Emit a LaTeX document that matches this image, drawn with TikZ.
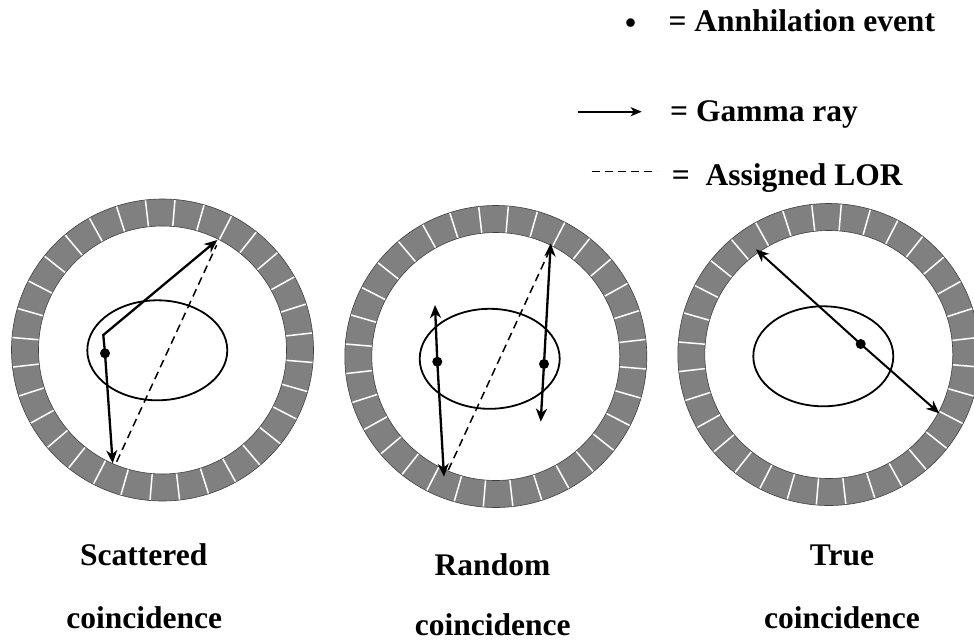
\documentclass[tikz,border=0pt]{standalone}
\usepackage{fontspec}
\setmainfont{Liberation Serif}
\usetikzlibrary{arrows.meta,calc,shapes.geometric}
\definecolor{ringgray}{HTML}{808080}
\begin{document}
\begin{tikzpicture}[x=1pt,y=-1pt,
  sepline/.style={white, line width=1.5pt},
  ringedge/.style={draw=black!75, line width=0.6pt},
  phantom/.style={draw=black, line width=1.8pt, ellipse, inner sep=0pt, minimum width=140pt, minimum height=100pt},
  ray/.style={black, line width=2.3pt, line join=miter, -{Stealth[length=13pt,width=11pt,inset=4pt]}},
  lor/.style={black, line width=1.5pt, dash pattern=on 8pt off 5pt},
  evt/.style={circle, fill=black, inner sep=0pt, minimum size=10pt},
  lbl/.style={font=\fontsize{31.5}{36}\selectfont\bfseries, inner sep=0pt, anchor=base},
]
\useasboundingbox (0,0) rectangle (974,641);

% detector rings
\coordinate (c1) at (162.5,350);
\coordinate (c2) at (495.8,356.5);
\coordinate (c3) at (828.8,354.5);
\foreach \rr in {c1,c2,c3}{
  \fill[ringgray, even odd rule] (\rr) circle[radius=151pt] (\rr) circle[radius=124pt];
  \foreach \k in {0,...,31}
    \draw[sepline] ($(\rr)+(6.5+11.25*\k:124pt)$) -- ($(\rr)+(6.5+11.25*\k:151pt)$);
  \draw[ringedge] (\rr) circle[radius=151pt];
  \draw[ringedge] (\rr) circle[radius=124pt];
}

% phantoms
\node[phantom] (e1) at (157.3,350.3) {};
\node[phantom] (e2) at (489.7,358.8) {};
\node[phantom] (e3) at (823.3,356.3) {};

% scattered coincidence
\node[evt] (d1) at (105,353.3) {};
\coordinate (k1) at (103.3,335);
\coordinate (t1) at (217.3,240);
\coordinate (b1) at (112.7,463.3);
\coordinate (l1a) at (116.7,461.7);
\coordinate (l1b) at (216.7,245);
\draw[lor] (l1a) -- (l1b);
\draw[ray] (d1.center) -- (k1) -- (t1);
\draw[ray] (d1.center) -- (b1);

% random coincidence
\node[evt] (d2a) at (437.3,361.7) {};
\node[evt] (d2b) at (544,364) {};
\coordinate (t2a) at (435,305);
\coordinate (b2a) at (444,476.7);
\coordinate (t2b) at (550.7,243.3);
\coordinate (b2b) at (540.7,421.7);
\coordinate (l2a) at (448.3,470);
\coordinate (l2b) at (548.3,253.3);
\draw[lor] (l2a) -- (l2b);
\draw[ray] (d2a.center) -- (t2a);
\draw[ray] (d2a.center) -- (b2a);
\draw[ray] (d2b.center) -- (t2b);
\draw[ray] (d2b.center) -- (b2b);

% true coincidence
\node[evt] (d3) at (860.7,344) {};
\coordinate (t3) at (756,249.3);
\coordinate (b3) at (939.3,413.3);
\draw[ray, line width=2pt] (d3.center) -- (t3);
\draw[ray, line width=2pt] (d3.center) -- (b3);

% legend
\node[lbl] (bul) at (630.7,33) {•};
\node[lbl, anchor=base west] (leg1) at (668.3,31.7) {= Annhilation event};
\coordinate (ga) at (578,111.7);
\coordinate (gb) at (641.7,111.7);
\draw[black, line width=2pt, -{Stealth[length=11pt,width=9pt,inset=3pt]}] (ga) -- (gb);
\node[lbl, anchor=base west] (leg2) at (670,121.7) {= Gamma ray};
\coordinate (la) at (591.7,171.7);
\coordinate (lb) at (656.7,171.7);
\draw[lor] (la) -- (lb);
\node[lbl, anchor=base west] (leg3) at (671.7,185) {=\ \ Assigned LOR};

% captions
\node[lbl] (s1) at (143.7,565) {Scattered};
\node[lbl] (s2) at (144.3,628.3) {coincidence};
\node[lbl] (q1) at (492.5,575) {Random};
\node[lbl] (q2) at (492.8,635) {coincidence};
\node[lbl] (u1) at (842,565) {True};
\node[lbl] (u2) at (842,628) {coincidence};
\end{tikzpicture}
\end{document}
